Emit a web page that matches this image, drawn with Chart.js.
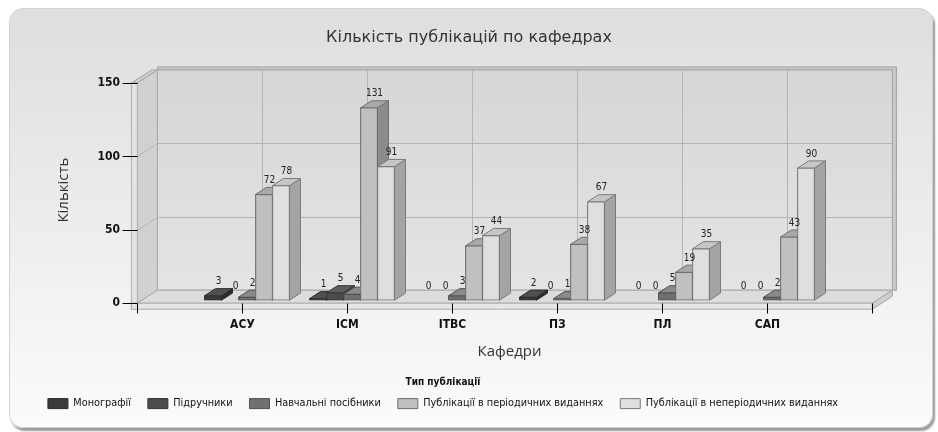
<!DOCTYPE html>
<html>
<head>
<meta charset="utf-8">
<script src="https://cdn.jsdelivr.net/npm/chart.js@4.4.1/dist/chart.umd.min.js"></script>
<style>
  html, body { margin: 0; padding: 0; background: #fff; overflow: hidden; }
  #panel {
    position: absolute; left: 9px; top: 8px; width: 922px; height: 418px;
    border: 1px solid #d2d2d2; border-radius: 14px;
    background: linear-gradient(to bottom, #dedede 0%, #ebebeb 45%, #fbfbfb 100%);
    box-shadow: 2px 3px 2px #9a9a9a;
  }
  #wrap { position: absolute; left: 0; top: 0; width: 938px; height: 432px; }
</style>
</head>
<body>
<div id="panel"></div>
<div id="wrap"><canvas id="chart"></canvas></div>
<script>
// дані
const departments = ['АСУ', 'ІСМ', 'ІТВС', 'ПЗ', 'ПЛ', 'САП'];
const seriesNames = ['Монографії', 'Підручники', 'Навчальні посібники',
  'Публікації в періодичних виданнях', 'Публікації в неперіодичних виданнях'];
const monographs    = [3, 1, 0, 2, 0, 0];
const textbooks     = [0, 5, 0, 0, 0, 0];
const manuals       = [2, 4, 3, 1, 5, 2];
const periodical    = [72, 131, 37, 38, 19, 43];
const nonPeriodical = [78, 91, 44, 67, 35, 90];
const yTicks = [0, 50, 100, 150];

// стилі
const frontColors  = ['#3b3b3b', '#4c4c4c', '#707070', '#c0c0c0', '#dfdfdf'];
const topColors    = ['#505050', '#5e5e5e', '#8a8a8a', '#a9a9a9', '#c6c6c6'];
const sideColors   = ['#2b2b2b', '#383838', '#575757', '#8c8c8c', '#a4a4a4'];
const borderColors = ['#2a2a2a', '#333333', '#505050', '#6e6e6e', '#7a7a7a'];

const DEPTH = { x: 20, y: -13 };   // глибина "коробки"
const FRONT_SHIFT = 0.23;          // стовпці стоять трохи вглиб
const BAR_DEPTH = 0.55;
const SLAB = 6;
const LEGEND_SHIFT = 26;
const COND = "'DejaVu Sans Condensed', 'DejaVu Sans', sans-serif";

const pad = a => [null, ...a, null];
const labels = ['', ...departments, ''];
const values = [monographs, textbooks, manuals, periodical, nonPeriodical];

const front = (x, y) => [x - FRONT_SHIFT * DEPTH.x, y - FRONT_SHIFT * DEPTH.y];
const back  = (x, y) => [x + (1 - FRONT_SHIFT) * DEPTH.x, y + (1 - FRONT_SHIFT) * DEPTH.y];

function poly(ctx, pts, fill, stroke) {
  ctx.beginPath();
  pts.forEach((p, i) => i ? ctx.lineTo(p[0], p[1]) : ctx.moveTo(p[0], p[1]));
  ctx.closePath();
  if (fill) { ctx.fillStyle = fill; ctx.fill(); }
  if (stroke) { ctx.strokeStyle = stroke; ctx.lineWidth = 1; ctx.stroke(); }
}
function line(ctx, a, b, color) {
  ctx.beginPath();
  ctx.moveTo(Math.round(a[0]) + 0.5, Math.round(a[1]) + 0.5);
  ctx.lineTo(Math.round(b[0]) + 0.5, Math.round(b[1]) + 0.5);
  ctx.strokeStyle = color; ctx.lineWidth = 1; ctx.stroke();
}

const box3d = {
  id: 'box3d',
  afterLayout(chart) {
    // легенда в оригіналі зміщена ліворуч
    const lg = chart.legend;
    if (lg) { lg.left -= LEGEND_SHIFT; lg.right -= LEGEND_SHIFT; }
  },
  beforeDatasetsDraw(chart) {
    const { ctx, chartArea: a, scales: { x, y } } = chart;
    const T = y.getPixelForValue(y.max), B = y.getPixelForValue(0);
    const L = a.left, R = a.right;
    const bTL = back(L, T), bTR = back(R, T), bBR = back(R, B), bBL = back(L, B);
    const fTL = front(L, T), fBL = front(L, B), fBR = front(R, B);
    ctx.save();
    // задня стінка з товщиною
    poly(ctx, [[bTL[0], bTL[1] - 3], [bTR[0] + 4, bTR[1] - 3], [bBR[0] + 4, bBR[1]],
      bBR, bTR, bTL], '#c9c9c9', '#a0a0a0');
    const g = ctx.createLinearGradient(0, bTL[1], 0, bBL[1]);
    g.addColorStop(0, '#d6d6d6'); g.addColorStop(1, '#e4e4e4');
    poly(ctx, [bTL, bTR, bBR, bBL], g, '#a8a8a8');
    // ліва стінка
    poly(ctx, [fTL, bTL, bBL, fBL], '#d1d1d1', '#a8a8a8');
    poly(ctx, [[fTL[0] - SLAB, fTL[1]], [bTL[0] - SLAB, bTL[1]], bTL, fTL], '#cdcdcd', '#a4a4a4');
    poly(ctx, [[fTL[0] - SLAB, fTL[1]], fTL, [fBL[0], fBL[1] + SLAB], [fBL[0] - SLAB, fBL[1] + SLAB]], '#e3e3e3', '#b0b0b0');
    // підлога
    poly(ctx, [fBL, fBR, bBR, bBL], '#dcdcdc', '#a8a8a8');
    poly(ctx, [[fBL[0] - SLAB, fBL[1]], fBR, [fBR[0], fBR[1] + SLAB], [fBL[0] - SLAB, fBL[1] + SLAB]], '#e7e7e7', '#acacac');
    poly(ctx, [fBR, bBR, [bBR[0], bBR[1] + SLAB], [fBR[0], fBR[1] + SLAB]], '#cfcfcf', '#a4a4a4');
    // сітка
    yTicks.forEach(v => {
      if (v === 0 || v === y.max) return;
      const py = y.getPixelForValue(v);
      line(ctx, back(L, py), back(R, py), '#b4b4b4');
      line(ctx, front(L, py), back(L, py), '#b4b4b4');
    });
    for (let k = 1; k < labels.length - 1; k++) {
      const px = x.getPixelForValue(k);
      line(ctx, back(px, T), back(px, B), '#b4b4b4');
    }
    // риски осей
    yTicks.forEach(v => {
      const p = front(L, y.getPixelForValue(v));
      line(ctx, [p[0] - 15, p[1]], p, '#000');
    });
    for (let k = 0; k < labels.length; k++) {
      const p = front(x.getPixelForValue(k), B);
      line(ctx, p, [p[0], p[1] + 10], '#000');
    }
    ctx.restore();
  },
  afterDatasetsDraw(chart) {
    const { ctx } = chart;
    const dx = BAR_DEPTH * DEPTH.x, dy = BAR_DEPTH * DEPTH.y;
    const items = [];
    chart.data.datasets.forEach((ds, i) => {
      chart.getDatasetMeta(i).data.forEach((el, j) => {
        const v = ds.data[j];
        if (v == null) return;
        items.push({ el, v, i });
      });
    });
    items.sort((p, q) => p.el.x - q.el.x);
    ctx.save();
    for (const { el, v, i } of items) {
      if (!v) continue;
      const { x, y, base, width } = el.getProps(['x', 'y', 'base', 'width'], true);
      const l = x - width / 2, r = x + width / 2;
      poly(ctx, [[r, y], [r + dx, y + dy], [r + dx, base + dy], [r, base]], sideColors[i], borderColors[i]);
      poly(ctx, [[l, y], [r, y], [r + dx, y + dy], [l + dx, y + dy]], topColors[i], borderColors[i]);
      el.draw(ctx);
    }
    ctx.font = '10px ' + COND;
    ctx.fillStyle = '#222';
    ctx.textAlign = 'center';
    ctx.textBaseline = 'bottom';
    for (const { el, v } of items) {
      const { x, y } = el.getProps(['x', 'y'], true);
      ctx.fillText(String(v), x + dx / 2, y + dy - 2);
    }
    ctx.restore();
  }
};

new Chart(document.getElementById('chart'), {
  type: 'bar',
  data: {
    labels,
    datasets: values.map((arr, i) => ({
      label: seriesNames[i],
      data: pad(arr),
      backgroundColor: frontColors[i],
      borderColor: borderColors[i],
      borderWidth: 1,
      borderSkipped: false,
      barThickness: 17
    }))
  },
  options: {
    responsive: true,
    maintainAspectRatio: false,
    animation: false,
    events: [],
    layout: { padding: { left: 0, right: 0, top: 0, bottom: 13 } },
    plugins: {
      title: {
        display: true,
        text: 'Кількість публікацій по кафедрах',
        color: '#333',
        font: { family: "'DejaVu Sans', sans-serif", size: 16, weight: 'normal' },
        padding: { top: 28.4, bottom: 32.4 }
      },
      legend: {
        position: 'bottom',
        title: {
          display: true,
          text: 'Тип публікації',
          color: '#111',
          font: { family: COND, size: 10, weight: 'bold' },
          padding: { top: 1, bottom: -8 }
        },
        labels: {
          boxWidth: 20, boxHeight: 10, padding: 17,
          color: '#111',
          font: { family: COND, size: 10.8 }
        }
      },
      tooltip: { enabled: false }
    },
    scales: {
      x: {
        type: 'category',
        offset: false,
        grid: { display: false },
        border: { display: false },
        ticks: {
          autoSkip: false, maxRotation: 0, padding: 9, labelOffset: -4.6,
          color: '#111', font: { family: COND, size: 12, weight: 'bold' }
        },
        title: {
          display: true, text: 'Кафедри', color: '#333',
          font: { family: "'Open Sans', sans-serif", size: 15 },
          padding: { top: 0, bottom: 15 }
        },
        afterFit: s => { s.height = 76; }
      },
      y: {
        position: 'left',
        min: 0, max: 150,
        grid: { display: false },
        border: { display: false },
        ticks: {
          stepSize: 50, padding: 14, labelOffset: 3,
          color: '#111', font: { family: COND, size: 12, weight: 'bold' }
        },
        afterBuildTicks: s => { s.ticks = yTicks.map(v => ({ value: v })); },
        title: {
          display: true, text: 'Кількість', color: '#333',
          font: { family: "'Open Sans', sans-serif", size: 15 },
          padding: { top: 55, bottom: 0 }
        },
        afterFit: s => { s.width = 142; }
      },
      yRight: {
        type: 'linear',
        position: 'right',
        grid: { display: false },
        border: { display: false },
        ticks: { display: false },
        afterFit: s => { s.width = 61; }
      }
    }
  },
  plugins: [box3d]
});
</script>
</body>
</html>
